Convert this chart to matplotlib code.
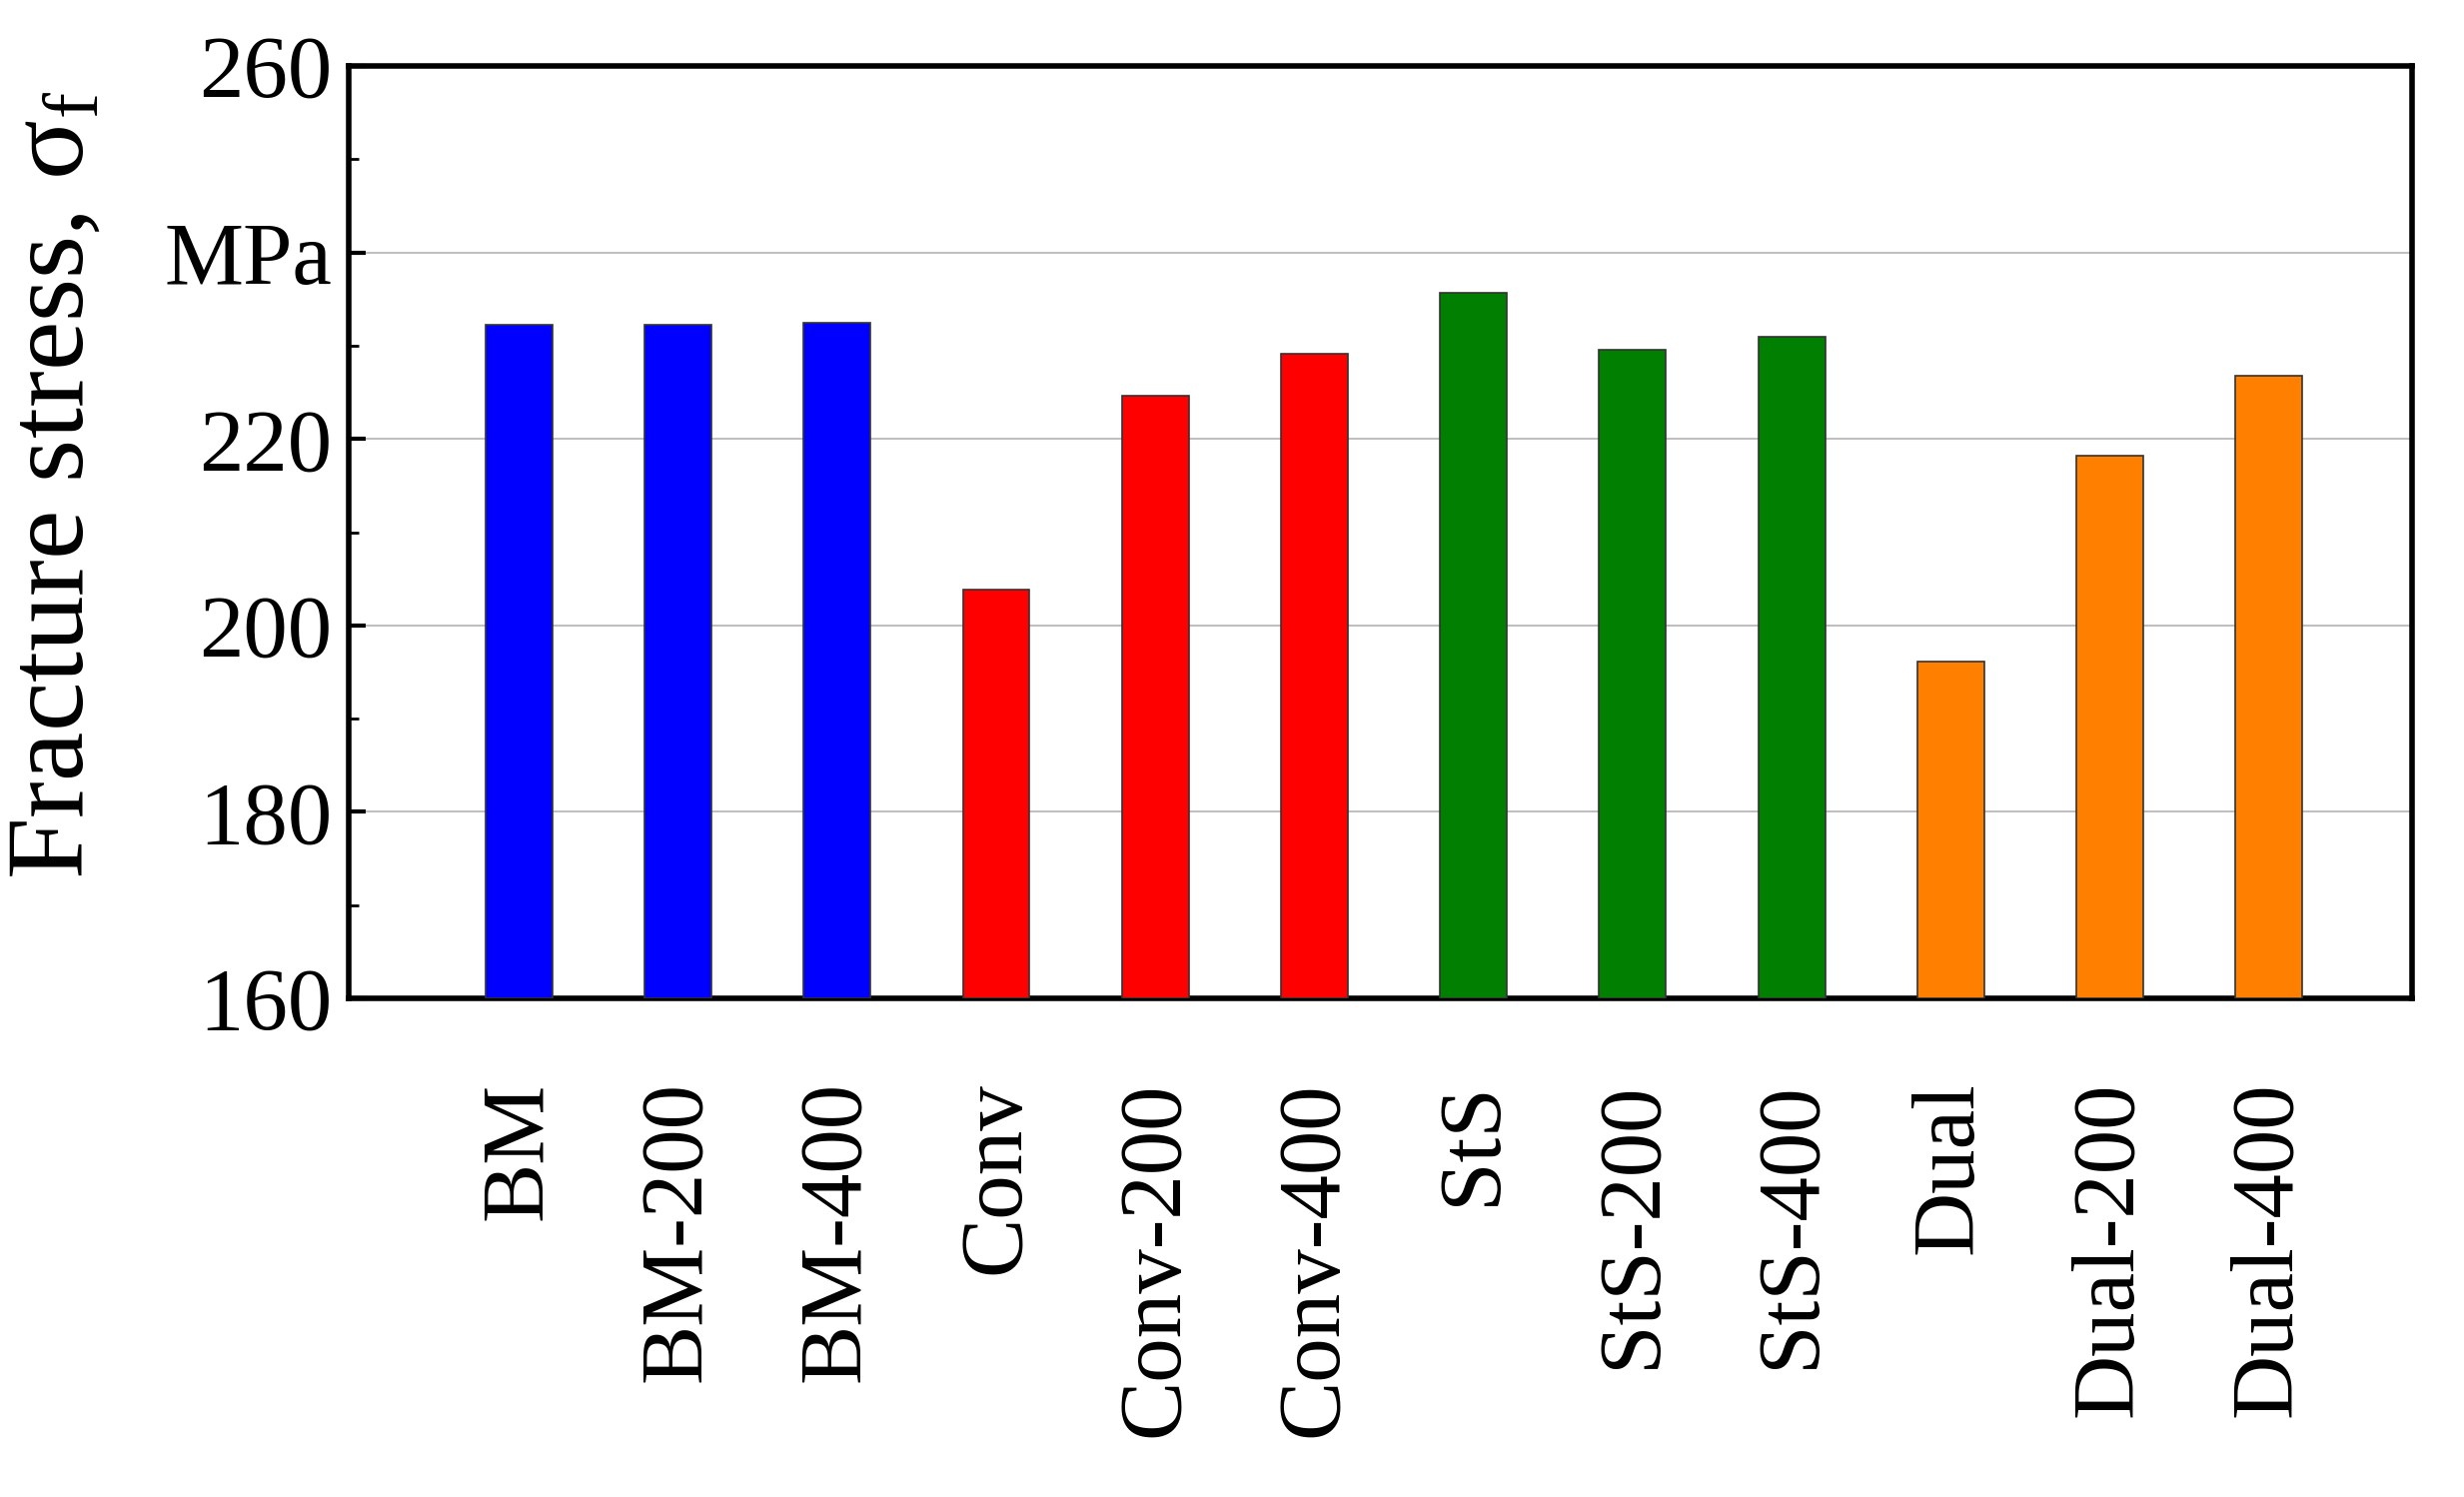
import matplotlib
matplotlib.use("Agg")
import matplotlib.pyplot as plt
from matplotlib.ticker import MultipleLocator

categories = ["BM","BM-200","BM-400","Conv","Conv-200","Conv-400","StS","StS-200","StS-400","Dual","Dual-200","Dual-400"]
values = [232.2,232.2,232.5,203.8,224.6,229.1,235.7,229.6,231.0,196.1,218.2,226.8]
colors = ["#0000ff"]*3 + ["#ff0000"]*3 + ["#007f00"]*3 + ["#ff8000"]*3
yticks = [160,180,200,220,240,260]
yticklabels = ["160","180","200","220","MPa","260"]

plt.rcParams['font.family'] = ['Liberation Serif','DejaVu Serif']
fig = plt.figure(figsize=(24.66,14.98), dpi=100)
ax = fig.add_axes([349/2466, 1-999/1498, (2414-349)/2466, (999-66)/1498])
x = list(range(len(categories)))
ax.bar(x, [v-160 for v in values], bottom=160, width=0.42, color=colors, edgecolor="#333333", linewidth=1.2, zorder=3)
ax.set_ylim(160,260)
ax.set_xlim(-1.07,11.9)
ax.set_yticks(yticks)
ax.set_yticklabels(yticklabels, fontsize=64)
ax.yaxis.set_minor_locator(MultipleLocator(10))
ax.set_xticks(x)
ax.set_xticklabels(categories, rotation=90, fontsize=64)
ax.tick_params(axis='x', length=0, pad=60)
ax.tick_params(axis='y', which='major', direction='in', length=12, width=3, pad=12)
ax.tick_params(axis='y', which='minor', direction='in', length=7, width=2)
for s in ax.spines.values():
    s.set_linewidth(4)
ax.grid(axis='y', color='#c0c0c0', linewidth=1.5, zorder=0)
ax.set_ylabel("Fracture stress, $\\mathregular{\\sigma_f}$", fontsize=80)
ax.yaxis.set_label_coords(-0.118, 0.55)
fig.savefig("out.png", dpi=100)
